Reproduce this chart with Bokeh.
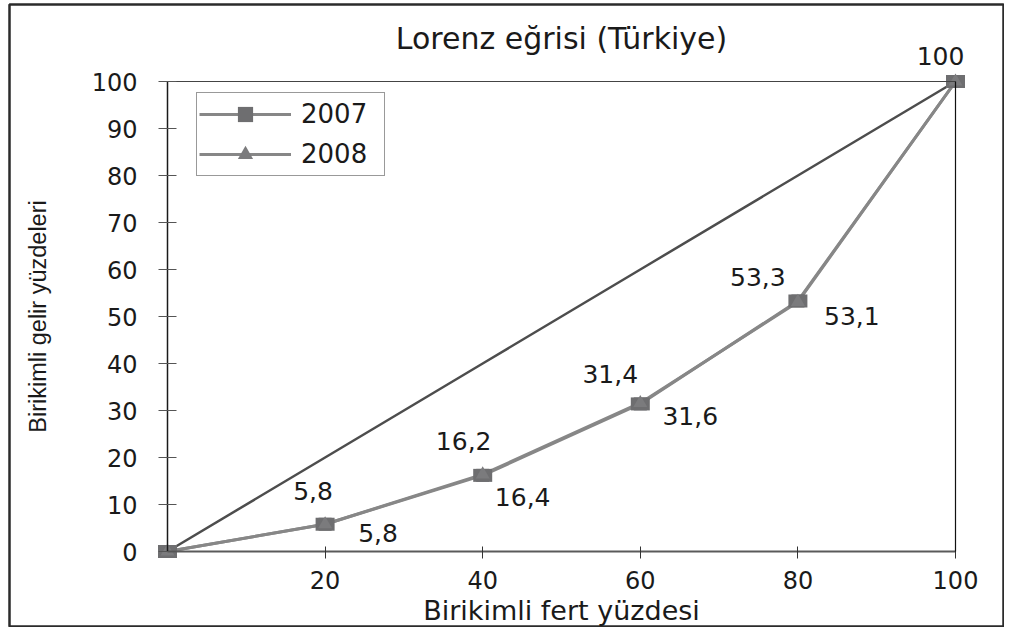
from bokeh.plotting import figure
from bokeh.models import (Range1d, LinearAxis, FixedTicker, ColumnDataSource,
                          LabelSet, Label, Legend, LegendItem)
from bokeh.core.properties import value
from bokeh.embed import file_html
from bokeh.resources import INLINE

# ---------------- data ----------------
pop = [0, 20, 40, 60, 80, 100]                      # Birikimli fert yüzdesi
share_2007 = [0, 5.8, 16.2, 31.4, 53.3, 100]        # 2007
share_2008 = [0, 5.8, 16.4, 31.6, 53.1, 100]        # 2008
equality = [0, 20, 40, 60, 80, 100]                 # eşitlik doğrusu
x_ticks = [20, 40, 60, 80, 100]
y_ticks = [0, 10, 20, 30, 40, 50, 60, 70, 80, 90, 100]

title_text = "Lorenz eğrisi (Türkiye)"
x_label = "Birikimli fert yüzdesi"
y_label = "Birikimli gelir yüzdeleri"

# label placement (screen px offsets, style only)
off07_x = [-12, -19, -30, -40]
off07_y = [33, 34, 30, 24]
off08_x = [53, 40, 50, 54]
off08_y = [-9, -23, -13.5, -14]
offtop_x = [-15]
offtop_y = [25.5]


def fmt(v):
    s = f"{v:.1f}".replace(".", ",")
    return s[:-2] if s.endswith(",0") else s


TXT = "#1a1a1a"
FONT = "DejaVu Sans"

# frame covers the whole canvas; its outline acts as the chart border
p = figure(width=1004, height=627,
           x_range=Range1d(-20.051, 106.218), y_range=Range1d(-16.170, 116.383),
           output_backend="svg", toolbar_location=None,
           min_border_left=9, min_border_right=0,
           min_border_top=4, min_border_bottom=0,
           title=None)
p.background_fill_color = "white"
p.border_fill_color = "white"
p.outline_line_color = "#2b2b2b"
p.outline_line_width = 2.5
p.grid.visible = False

# title
p.add_layout(Label(x=50, y=109.15, text=title_text, text_align="center",
                   text_baseline="middle", text_font=FONT,
                   text_font_size="30px", text_color=TXT))

# x axis
xa = p.xaxis[0]
xa.fixed_location = 0
xa.bounds = (0, 100)
xa.ticker = FixedTicker(ticks=x_ticks, minor_ticks=[])
xa.axis_label = x_label
xa.axis_label_text_font = FONT
xa.axis_label_text_font_size = "27px"
xa.axis_label_text_font_style = "normal"
xa.axis_label_text_color = TXT
xa.axis_label_standoff = 3
xa.major_label_text_font = FONT
xa.major_label_text_font_size = "24px"
xa.major_label_text_color = TXT
xa.major_label_standoff = 12
xa.axis_line_color = "#5a5a5a"
xa.axis_line_width = 2
xa.major_tick_line_color = "#333333"
xa.major_tick_in = 5
xa.major_tick_out = 7
xa.minor_tick_line_color = None

# y axis
ya = p.yaxis[0]
ya.fixed_location = 0
ya.bounds = (0, 100)
ya.ticker = FixedTicker(ticks=y_ticks, minor_ticks=[])
ya.axis_label = y_label
ya.axis_label_text_font = "Liberation Sans"
ya.axis_label_text_font_size = "23.5px"
ya.axis_label_text_font_style = "normal"
ya.axis_label_text_color = TXT
ya.axis_label_standoff = 38
ya.major_label_text_font = FONT
ya.major_label_text_font_size = "24px"
ya.major_label_text_color = TXT
ya.major_label_standoff = 21
ya.axis_line_color = "#1a1a1a"
ya.axis_line_width = 1.5
ya.major_tick_line_color = "#555555"
ya.major_tick_in = 9
ya.major_tick_out = 9
ya.minor_tick_line_color = None

# plot-area lines on top and right
top_ax = LinearAxis(fixed_location=100, bounds=(0, 100),
                    ticker=FixedTicker(ticks=[], minor_ticks=[]),
                    axis_line_color="#444444", axis_line_width=1.2,
                    major_tick_line_color=None, minor_tick_line_color=None,
                    major_label_text_font_size="0px")
p.add_layout(top_ax, "above")
right_ax = LinearAxis(fixed_location=100, bounds=(0, 100),
                      ticker=FixedTicker(ticks=[], minor_ticks=[]),
                      axis_line_color="#111111", axis_line_width=1.2,
                      major_tick_line_color=None, minor_tick_line_color=None,
                      major_label_text_font_size="0px")
p.add_layout(right_ax, "right")

# lines
p.line(pop, equality, line_color="#4d4d4d", line_width=2.5)
l07 = p.line(pop, share_2007, line_color="#878787", line_width=3)
l08 = p.line(pop, share_2008, line_color="#878787", line_width=3)

# markers
sq07 = p.scatter(pop, share_2007, marker="square", size=13,
                 fill_color="#6e6e70", line_color=None)
p.rect(pop, share_2007, width=19, height=13, width_units="screen",
       height_units="screen", fill_color="#6e6e70", line_color=None)
tri08 = p.scatter(pop, share_2008, marker="triangle", size=14,
                  fill_color="#7b7b7d", line_color=None)

# data labels
src07 = ColumnDataSource(dict(x=pop[1:5], y=share_2007[1:5],
                              t=[fmt(v) for v in share_2007[1:5]],
                              dx=off07_x, dy=off07_y))
src08 = ColumnDataSource(dict(x=pop[1:5], y=share_2008[1:5],
                              t=[fmt(v) for v in share_2008[1:5]],
                              dx=off08_x, dy=off08_y))
srctop = ColumnDataSource(dict(x=pop[5:], y=share_2007[5:],
                               t=[fmt(v) for v in share_2007[5:]],
                               dx=offtop_x, dy=offtop_y))
for s in (src07, src08, srctop):
    p.add_layout(LabelSet(x="x", y="y", text="t", source=s,
                          x_offset="dx", y_offset="dy",
                          text_align="center", text_baseline="middle",
                          text_font=value(FONT), text_font_size="25px",
                          text_color=TXT))

legend = Legend(items=[LegendItem(label="2007", renderers=[l07, sq07]),
                       LegendItem(label="2008", renderers=[l08, tri08])],
                location=(187, 451), orientation="vertical",
                glyph_width=92, glyph_height=38, label_height=38,
                label_width=81, label_standoff=10, spacing=2, padding=2,
                margin=0,
                label_text_font=FONT, label_text_font_size="26px",
                label_text_color=TXT,
                border_line_color="#333333", border_line_width=1,
                background_fill_color="white", background_fill_alpha=1)
p.add_layout(legend)

open("out.html", "w").write(file_html(p, INLINE))
